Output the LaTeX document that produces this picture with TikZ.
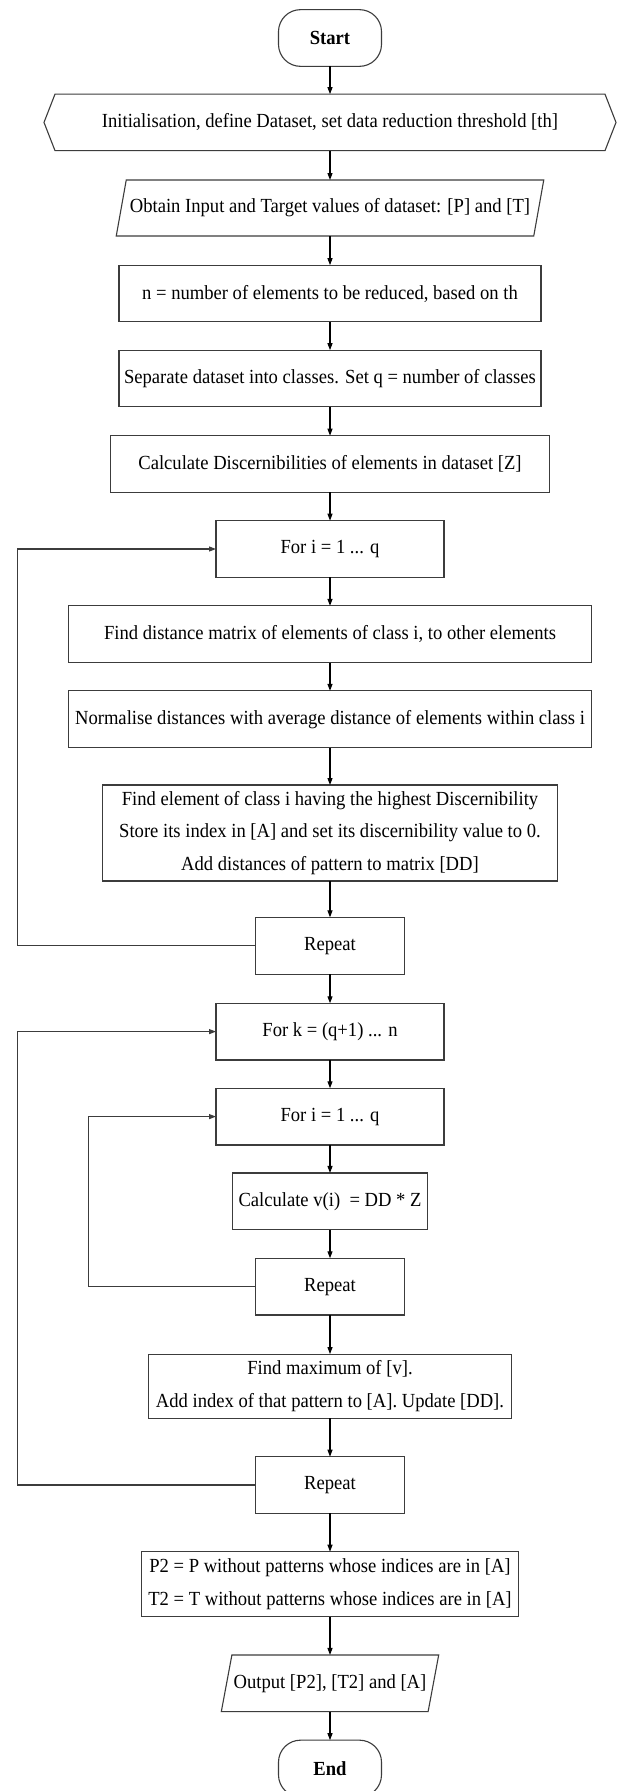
\documentclass[tikz,border=0pt]{standalone}
\usepackage{fontspec}
\setmainfont{Liberation Serif}[FakeStretch=0.93]
\usetikzlibrary{arrows.meta,calc}
\definecolor{boxcol}{HTML}{3C3C3C}
\begin{document}
\begin{tikzpicture}[x=1pt,y=-1pt,
  every node/.style={font=\fontsize{20}{32.4}\selectfont, outer sep=0pt, inner sep=0pt, text=black},
  box/.style={draw=boxcol, line width=1.1pt, minimum height=56.7pt, align=center},
  term/.style={box, rounded corners=22pt, minimum width=103pt, font=\fontsize{20}{32.4}\selectfont\bfseries},
  bare/.style={minimum height=56.5pt, align=center},
  outline/.style={draw=boxcol, line width=1.1pt},
  arr/.style={draw=black, line width=1.1pt, -{Triangle[length=7pt,width=5pt]}},
  loopline/.style={arr, draw=boxcol},
]
\fill[white] (0,0) rectangle (617,1791);
\useasboundingbox (0,0) rectangle (617,1791);

\node[term] (start) at (330,38) {Start};

\node[bare, minimum width=550pt] (init) at (330,122.4) {Initialisation, define Dataset, set data reduction threshold [th]};
\draw[outline] (init.north west) -- (init.north east) -- ([xshift=11pt]init.east) -- (init.south east) -- (init.south west) -- ([xshift=-11pt]init.west) -- cycle;

\node[bare, minimum width=417.5pt, minimum height=56pt] (obtain) at (330,208) {Obtain Input and Target values of dataset: [P] and [T]};
\draw[outline] ([xshift=5pt]obtain.north west) -- ([xshift=5pt]obtain.north east) -- ([xshift=-5pt]obtain.south east) -- ([xshift=-5pt]obtain.south west) -- cycle;

\node[box, minimum width=422pt] (nel) at (330,293.5) {n = number of elements to be reduced, based on th};
\node[box, minimum width=422pt] (sep) at (330,378.5) {Separate dataset into classes. Set q = number of classes};
\node[box, minimum width=439pt] (calcz) at (330,464) {Calculate Discernibilities of elements in dataset [Z]};
\node[box, minimum width=228pt] (fori) at (330,549) {For i = 1 ... q};
\node[box, minimum width=522.6pt] (dist) at (330,634.2) {Find distance matrix of elements of class i, to other elements};
\node[box, minimum width=522.6pt] (norm) at (330,719.2) {Normalise distances with average distance of elements within class i};
\node[box, minimum width=455pt, minimum height=96pt] (elem) at (330,833) {Find element of class i having the highest Discernibility\\Store its index in [A] and set its discernibility value to 0.\\Add distances of pattern to matrix [DD]};
\node[box, minimum width=149.6pt] (rep1) at (330,945.7) {Repeat};
\node[box, minimum width=228pt] (fork) at (330,1031.6) {For k = (q+1) ... n};
\node[box, minimum width=228pt] (fori2) at (330,1116.6) {For i = 1 ... q};
\node[box, minimum width=194.4pt] (calcv) at (330,1201.3) {Calculate v(i) \ = DD * Z};
\node[box, minimum width=149.6pt] (rep2) at (330,1286.6) {Repeat};
\node[box, minimum width=362.5pt, minimum height=64.3pt] (fmax) at (330,1386.2) {Find maximum of [v].\\Add index of that pattern to [A]. Update [DD].};
\node[box, minimum width=149.6pt] (rep3) at (330,1485) {Repeat};
\node[box, minimum width=377.8pt, minimum height=65pt] (ptwo) at (330,1584.2) {P2 = P without patterns whose indices are in [A]\\T2 = T without patterns whose indices are in [A]};

\node[bare, minimum width=206.8pt, minimum height=56.7pt] (outp) at (330,1683.3) {Output [P2], [T2] and [A]};
\draw[outline] ([xshift=5.3pt]outp.north west) -- ([xshift=5.3pt]outp.north east) -- ([xshift=-5.3pt]outp.south east) -- ([xshift=-5.3pt]outp.south west) -- cycle;

\node[term] (finish) at (330,1768.5) {End};

\foreach \a/\b in {start/init, init/obtain, obtain/nel, nel/sep, sep/calcz, calcz/fori, fori/dist, dist/norm, norm/elem, elem/rep1, rep1/fork, fork/fori2, fori2/calcv, calcv/rep2, rep2/fmax, fmax/rep3, rep3/ptwo, ptwo/outp, outp/finish}
  \draw[arr] (\a.south) -- (\b.north);

\coordinate (lxa) at (17.3,0);
\coordinate (lxb) at (88.5,0);
\draw[loopline] (rep1.west) -- (rep1.west -| lxa) |- (fori.west);
\draw[loopline] (rep3.west) -- (rep3.west -| lxa) |- (fork.west);
\draw[loopline] (rep2.west) -- (rep2.west -| lxb) |- (fori2.west);
\end{tikzpicture}
\end{document}
